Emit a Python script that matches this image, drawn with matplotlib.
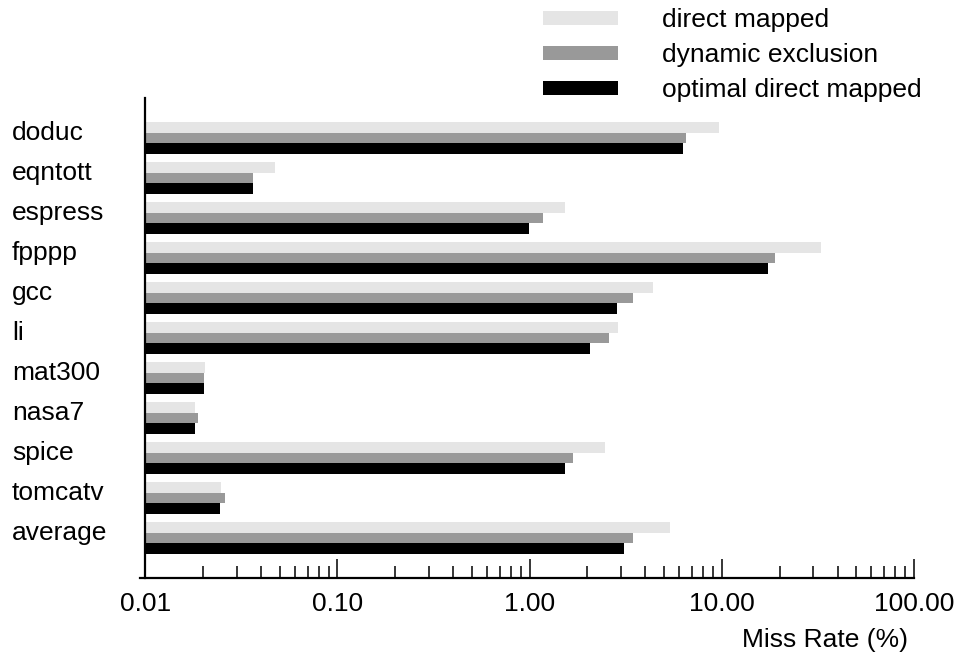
import numpy as np
import matplotlib
matplotlib.use("Agg")
from matplotlib import pyplot as plt

plt.rcParams['font.family'] = ['Liberation Sans', 'DejaVu Sans']

benchmarks = ["doduc", "eqntott", "espress", "fpppp", "gcc", "li",
              "mat300", "nasa7", "spice", "tomcatv", "average"]

direct_mapped = [9.7, 0.0475, 1.53, 32.7, 4.4, 2.88, 0.0204, 0.0181, 2.46, 0.0249, 5.4]
dynamic_exclusion = [6.5, 0.0366, 1.17, 19.0, 3.45, 2.6, 0.0202, 0.0189, 1.68, 0.026, 3.45]
optimal_direct = [6.27, 0.0366, 0.99, 17.4, 2.85, 2.07, 0.0202, 0.0181, 1.53, 0.0244, 3.1]

series_names = ["direct mapped", "dynamic exclusion", "optimal direct mapped"]
series_colors = ["#e5e5e5", "#999999", "#000000"]

tick_vals = [0.01, 0.1, 1, 10, 100]
tick_labels = ["0.01", "0.10", "1.00", "10.00", "100.00"]

base = 0.01  # bars grow from the left edge of the log axis
fs = 19

fig = plt.figure(figsize=(9.58, 6.52), dpi=100)
ax = fig.add_axes([140 / 958, 1 - 578 / 652, (914 - 140) / 958, (578 - 98) / 652])

y = np.arange(len(benchmarks))
barh = 0.27
offsets = [-0.26, 0.0, 0.26]
for vals, name, col, off in zip([direct_mapped, dynamic_exclusion, optimal_direct],
                                series_names, series_colors, offsets):
    ax.barh(y + off, np.array(vals) - base, height=barh, left=base, color=col,
            label=name, edgecolor='none')

ax.set_xscale('log')
ax.set_xlim(0.0094, 100)
ax.set_ylim(11, -1)

ax.spines['top'].set_visible(False)
ax.spines['right'].set_visible(False)
ax.spines['left'].set_position(('data', base))
ax.spines['left'].set_linewidth(1.6)
ax.spines['bottom'].set_linewidth(1.6)

ax.set_xticks(tick_vals)
ax.set_xticklabels(tick_labels)
ax.tick_params(axis='x', which='major', direction='in', length=14, width=1.1,
               labelsize=fs, pad=10)
ax.tick_params(axis='x', which='minor', direction='in', length=9, width=1.1)

# labels sit a little above the middle of each group
ax.set_yticks(y - 0.19)
ax.set_yticklabels(benchmarks)
ax.tick_params(axis='y', length=0, labelsize=fs, pad=96)
for lab in ax.get_yticklabels():
    lab.set_ha('left')

ax.set_xlabel("Miss Rate (%)", fontsize=fs, ha='right')
ax.xaxis.set_label_coords((908 - 140) / 774, -0.105)

fig.legend(loc='upper left', bbox_to_anchor=(543 / 958, 1 - 8 / 652),
           frameon=False, fontsize=fs, handlelength=2.85, handleheight=0.43,
           handletextpad=1.65, labelspacing=0.42, borderpad=0, borderaxespad=0)

plt.savefig("out.png", dpi=100)
